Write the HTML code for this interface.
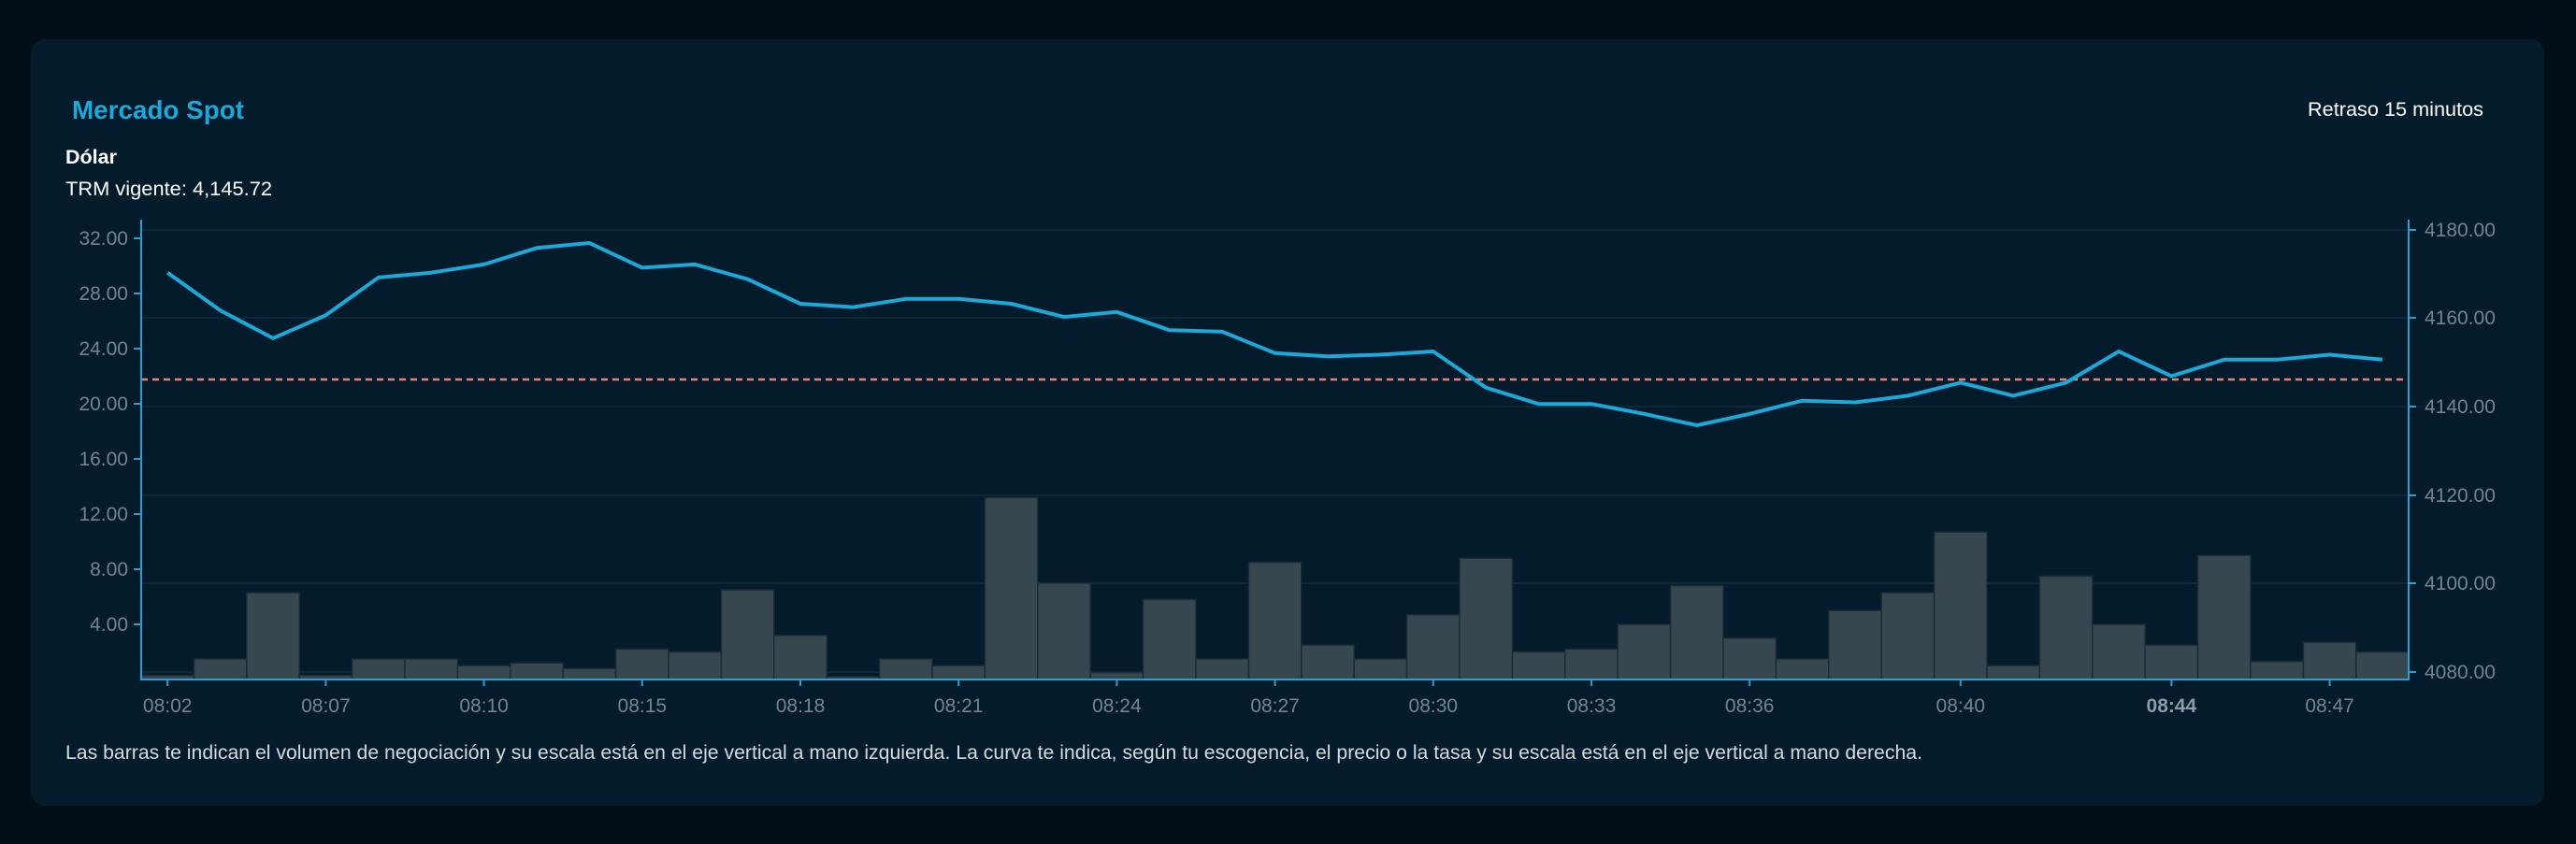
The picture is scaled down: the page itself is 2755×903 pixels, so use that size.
<!DOCTYPE html>
<html><head><meta charset="utf-8"><style>
html,body{margin:0;padding:0;background:#020f18;}
svg{display:block;font-family:"Liberation Sans",sans-serif;}
</style></head><body>
<svg width="2755" height="903" viewBox="0 0 2755 903" xmlns="http://www.w3.org/2000/svg">
<rect x="0" y="0" width="2755" height="903" fill="#020f18"/>
<rect x="33" y="42" width="2688" height="820" rx="14" fill="#041b2b"/>
<text x="77" y="127" font-size="28" font-weight="bold" fill="#1ca9d9" textLength="184" lengthAdjust="spacingAndGlyphs">Mercado Spot</text>
<text x="2468" y="124" font-size="21" fill="#ffffff" textLength="188" lengthAdjust="spacingAndGlyphs">Retraso 15 minutos</text>
<text x="70" y="175" font-size="21" font-weight="bold" fill="#ffffff" textLength="55" lengthAdjust="spacingAndGlyphs">Dólar</text>
<text x="70" y="209" font-size="21" fill="#ffffff" textLength="221" lengthAdjust="spacingAndGlyphs">TRM vigente: 4,145.72</text>
<g stroke="#0e2d3e" stroke-width="1.5">
<line x1="151" y1="246" x2="2576" y2="246"/><line x1="151" y1="340" x2="2576" y2="340"/>
<line x1="151" y1="435" x2="2576" y2="435"/><line x1="151" y1="530" x2="2576" y2="530"/>
<line x1="151" y1="624" x2="2576" y2="624"/><line x1="151" y1="719" x2="2576" y2="719"/>
</g>
<g fill="#37474f" stroke="#1c2b35" stroke-width="1.5">
<rect x="151.0" y="722.6" width="56.4" height="4.4"/><rect x="207.4" y="704.9" width="56.4" height="22.1"/>
<rect x="263.8" y="634.1" width="56.4" height="92.9"/><rect x="320.2" y="722.6" width="56.4" height="4.4"/>
<rect x="376.6" y="704.9" width="56.4" height="22.1"/><rect x="433.0" y="704.9" width="56.4" height="22.1"/>
<rect x="489.4" y="712.2" width="56.4" height="14.8"/><rect x="545.8" y="709.3" width="56.4" height="17.7"/>
<rect x="602.2" y="715.2" width="56.4" height="11.8"/><rect x="658.6" y="694.5" width="56.4" height="32.5"/>
<rect x="715.0" y="697.5" width="56.4" height="29.5"/><rect x="771.4" y="631.1" width="56.4" height="95.9"/>
<rect x="827.8" y="679.8" width="56.4" height="47.2"/><rect x="884.2" y="724.0" width="56.4" height="3.0"/>
<rect x="940.6" y="704.9" width="56.4" height="22.1"/><rect x="997.0" y="712.2" width="56.4" height="14.8"/>
<rect x="1053.4" y="532.3" width="56.4" height="194.7"/><rect x="1109.8" y="623.7" width="56.4" height="103.3"/>
<rect x="1166.2" y="719.6" width="56.4" height="7.4"/><rect x="1222.6" y="641.4" width="56.4" height="85.6"/>
<rect x="1279.0" y="704.9" width="56.4" height="22.1"/><rect x="1335.4" y="601.6" width="56.4" height="125.4"/>
<rect x="1391.8" y="690.1" width="56.4" height="36.9"/><rect x="1448.2" y="704.9" width="56.4" height="22.1"/>
<rect x="1504.6" y="657.7" width="56.4" height="69.3"/><rect x="1561.0" y="597.2" width="56.4" height="129.8"/>
<rect x="1617.4" y="697.5" width="56.4" height="29.5"/><rect x="1673.8" y="694.5" width="56.4" height="32.5"/>
<rect x="1730.2" y="668.0" width="56.4" height="59.0"/><rect x="1786.6" y="626.7" width="56.4" height="100.3"/>
<rect x="1843.0" y="682.7" width="56.4" height="44.3"/><rect x="1899.4" y="704.9" width="56.4" height="22.1"/>
<rect x="1955.8" y="653.2" width="56.4" height="73.8"/><rect x="2012.2" y="634.1" width="56.4" height="92.9"/>
<rect x="2068.6" y="569.2" width="56.4" height="157.8"/><rect x="2125.0" y="712.2" width="56.4" height="14.8"/>
<rect x="2181.4" y="616.4" width="56.4" height="110.6"/><rect x="2237.8" y="668.0" width="56.4" height="59.0"/>
<rect x="2294.2" y="690.1" width="56.4" height="36.9"/><rect x="2350.6" y="594.2" width="56.4" height="132.8"/>
<rect x="2407.0" y="707.8" width="56.4" height="19.2"/><rect x="2463.4" y="687.2" width="56.4" height="39.8"/>
<rect x="2519.8" y="697.5" width="56.4" height="29.5"/>
</g>
<line x1="151" y1="406" x2="2576" y2="406" stroke="#e8837a" stroke-width="2.5" stroke-dasharray="7,5"/>
<polyline fill="none" stroke="#1ba9d9" stroke-width="4" stroke-linejoin="round" points="179.2,291.7 235.6,332.1 292.0,361.9 348.4,337.3 404.8,296.9 461.2,291.7 517.6,282.9 574.0,265.3 630.4,260.0 686.8,286.4 743.2,282.9 799.6,298.7 856.0,325.0 912.4,328.6 968.8,319.8 1025.2,319.8 1081.6,325.0 1138.0,339.1 1194.4,333.8 1250.8,353.2 1307.2,354.9 1363.6,377.8 1420.0,381.3 1476.4,379.5 1532.8,376.0 1589.2,414.7 1645.6,432.2 1702.0,432.2 1758.4,442.8 1814.8,455.1 1871.2,442.8 1927.6,428.7 1984.0,430.5 2040.4,423.4 2096.8,409.4 2153.2,423.4 2209.6,409.4 2266.0,376.0 2322.4,402.4 2378.8,384.8 2435.2,384.8 2491.6,379.5 2548.0,384.8"/>
<g stroke="#2a9fd0" stroke-width="2">
<line x1="151" y1="235" x2="151" y2="728"/>
<line x1="2576" y1="235" x2="2576" y2="728"/>
<line x1="150" y1="727" x2="2577" y2="727"/>
<line x1="143" y1="255" x2="151" y2="255"/><line x1="143" y1="314" x2="151" y2="314"/>
<line x1="143" y1="373" x2="151" y2="373"/><line x1="143" y1="432" x2="151" y2="432"/>
<line x1="143" y1="491" x2="151" y2="491"/><line x1="143" y1="550" x2="151" y2="550"/>
<line x1="143" y1="609" x2="151" y2="609"/><line x1="143" y1="668" x2="151" y2="668"/>
<line x1="2576" y1="246" x2="2584" y2="246"/><line x1="2576" y1="340" x2="2584" y2="340"/>
<line x1="2576" y1="435" x2="2584" y2="435"/><line x1="2576" y1="530" x2="2584" y2="530"/>
<line x1="2576" y1="624" x2="2584" y2="624"/><line x1="2576" y1="719" x2="2584" y2="719"/>
<line x1="179.2" y1="727" x2="179.2" y2="734"/><line x1="348.4" y1="727" x2="348.4" y2="734"/>
<line x1="517.6" y1="727" x2="517.6" y2="734"/><line x1="686.8" y1="727" x2="686.8" y2="734"/>
<line x1="856.0" y1="727" x2="856.0" y2="734"/><line x1="1025.2" y1="727" x2="1025.2" y2="734"/>
<line x1="1194.4" y1="727" x2="1194.4" y2="734"/><line x1="1363.6" y1="727" x2="1363.6" y2="734"/>
<line x1="1532.8" y1="727" x2="1532.8" y2="734"/><line x1="1702.0" y1="727" x2="1702.0" y2="734"/>
<line x1="1871.2" y1="727" x2="1871.2" y2="734"/><line x1="2096.8" y1="727" x2="2096.8" y2="734"/>
<line x1="2322.4" y1="727" x2="2322.4" y2="734"/><line x1="2491.6" y1="727" x2="2491.6" y2="734"/>
</g>
<g font-size="21" fill="#6f8693" text-anchor="end">
<text x="137" y="262">32.00</text><text x="137" y="321">28.00</text><text x="137" y="380">24.00</text>
<text x="137" y="439">20.00</text><text x="137" y="498">16.00</text><text x="137" y="557">12.00</text>
<text x="137" y="616">8.00</text><text x="137" y="675">4.00</text>
</g>
<g font-size="21" fill="#6f8693">
<text x="2593" y="253">4180.00</text><text x="2593" y="347">4160.00</text><text x="2593" y="442">4140.00</text>
<text x="2593" y="537">4120.00</text><text x="2593" y="631">4100.00</text><text x="2593" y="726">4080.00</text>
</g>
<g font-size="21" fill="#6f8693" text-anchor="middle">
<text x="179.2" y="762">08:02</text><text x="348.4" y="762">08:07</text><text x="517.6" y="762">08:10</text>
<text x="686.8" y="762">08:15</text><text x="856.0" y="762">08:18</text><text x="1025.2" y="762">08:21</text>
<text x="1194.4" y="762">08:24</text><text x="1363.6" y="762">08:27</text><text x="1532.8" y="762">08:30</text>
<text x="1702.0" y="762">08:33</text><text x="1871.2" y="762">08:36</text><text x="2096.8" y="762">08:40</text>
<text x="2322.4" y="762" font-weight="bold" fill="#8a9ca6">08:44</text><text x="2491.6" y="762">08:47</text>
</g>
<text x="70" y="812" font-size="21" fill="#d4dbe0" textLength="1986" lengthAdjust="spacingAndGlyphs">Las barras te indican el volumen de negociación y su escala está en el eje vertical a mano izquierda. La curva te indica, según tu escogencia, el precio o la tasa y su escala está en el eje vertical a mano derecha.</text>
</svg>
</body></html>
